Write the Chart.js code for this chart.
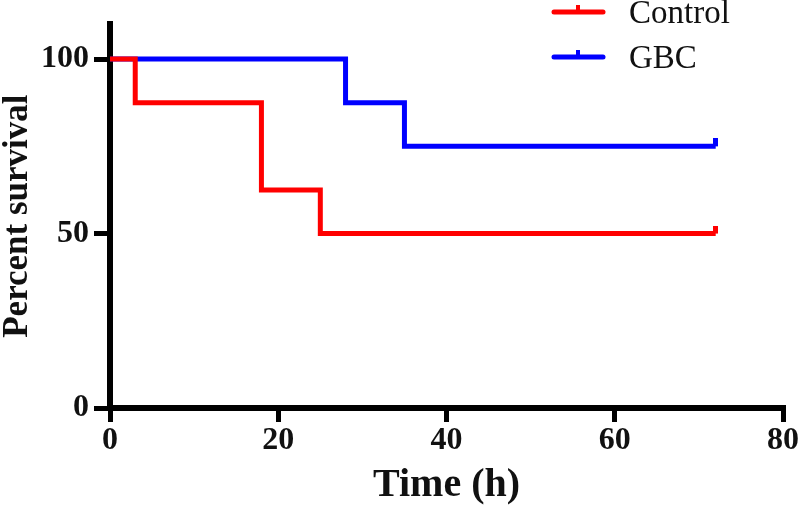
<!DOCTYPE html>
<html>
<head>
<meta charset="utf-8">
<script src="https://cdn.jsdelivr.net/npm/chart.js@4"></script>
<style>
  html, body { margin: 0; padding: 0; background: #fff; }
  #wrap { width: 800px; height: 511px; }
</style>
</head>
<body>
<div id="wrap"><canvas id="survival"></canvas></div>
<script>
// survival steps
const controlTimes = [0, 3, 18, 25, 72]
const controlSurvival = [100, 87.5, 62.5, 50, 50]
const gbcTimes = [0, 28, 35, 72]
const gbcSurvival = [100, 87.5, 75, 75]
const groupNames = ['Control', 'GBC']
const xTicks = [0, 20, 40, 60, 80]
const yTicks = [0, 50, 100]

const serif = '"Liberation Serif", "Times New Roman", serif'
const red = '#ff0000'
const blue = '#0000ff'

// small upward stub used as censor mark at the end of each curve
const censorMark = (color) => {
    const c = document.createElement('canvas')
    c.width = 5
    c.height = 16
    const g = c.getContext('2d')
    g.fillStyle = color
    g.fillRect(0, 0, 5, 8)
    return c
}

const toPoints = (xs, ys) => xs.map((x, i) => ({x: x, y: ys[i]}))

const makeSet = (label, xs, ys, color) => {
    const mark = censorMark(color)
    const last = xs.length - 1
    return {
        label: label,
        data: toPoints(xs, ys),
        borderColor: color,
        backgroundColor: color,
        borderWidth: 5,
        stepped: 'before',
        fill: false,
        pointStyle: (c) => c.dataIndex === last ? mark : false,
        pointRadius: (c) => c.dataIndex === last ? 3 : 0,
        pointHoverRadius: 0,
    }
}

const legendPlugin = {
    id: 'kmLegend',
    afterDraw(chart) {
        const ctx = chart.ctx
        ctx.save()
        chart.data.datasets.forEach((ds, i) => {
            const y = 12 + i * 45
            ctx.strokeStyle = ds.borderColor
            ctx.lineWidth = 5
            ctx.lineCap = 'round'
            ctx.beginPath()
            ctx.moveTo(554, y)
            ctx.lineTo(603, y)
            ctx.stroke()
            ctx.fillStyle = ds.borderColor
            ctx.fillRect(576, y - 7, 4, 7)
            ctx.fillStyle = '#111'
            ctx.font = '33px ' + serif
            ctx.textBaseline = 'alphabetic'
            ctx.textAlign = 'left'
            ctx.fillText(ds.label, 629, y + 11)
        })
        ctx.restore()
    }
}

const data = {
    datasets: [
        makeSet(groupNames[0], controlTimes, controlSurvival, red),
        makeSet(groupNames[1], gbcTimes, gbcSurvival, blue),
    ]
}

const config = {
    type: 'line',
    data: data,
    plugins: [legendPlugin],
    options: {
        responsive: true,
        maintainAspectRatio: false,
        animation: false,
        layout: {
            padding: {top: 24, right: 17, left: 0, bottom: 0}
        },
        plugins: {
            legend: {display: false},
            tooltip: {enabled: false},
        },
        scales: {
            x: {
                type: 'linear',
                min: 0,
                max: 80,
                afterBuildTicks: (s) => { s.ticks = xTicks.map(v => ({value: v})) },
                afterFit: (s) => { s.height = 103 },
                border: {display: true, color: '#000', width: 6},
                grid: {drawOnChartArea: false, color: '#000', lineWidth: 5, tickLength: 14},
                ticks: {
                    color: '#111',
                    padding: 0,
                    maxRotation: 0,
                    font: {family: serif, size: 32, weight: 'bold'},
                },
                title: {
                    display: true,
                    text: 'Time (h)',
                    color: '#111',
                    padding: {top: 0, bottom: 5},
                    font: {family: serif, size: 40, weight: 'bold', lineHeight: 1},
                },
            },
            y: {
                min: 0,
                max: 110,
                afterBuildTicks: (s) => { s.ticks = yTicks.map(v => ({value: v})) },
                afterFit: (s) => { s.width = 110 },
                border: {display: true, color: '#000', width: 6},
                grid: {drawOnChartArea: false, color: '#000', lineWidth: 5, tickLength: 16},
                ticks: {
                    color: '#111',
                    padding: 5,
                    font: {family: serif, size: 32, weight: 'bold'},
                },
                title: {
                    display: true,
                    text: 'Percent survival',
                    color: '#111',
                    padding: {top: 0, bottom: 0},
                    font: {family: serif, size: 35, weight: 'bold', lineHeight: 1},
                },
            },
        },
    },
}

new Chart(document.getElementById('survival'), config)
</script>
</body>
</html>
